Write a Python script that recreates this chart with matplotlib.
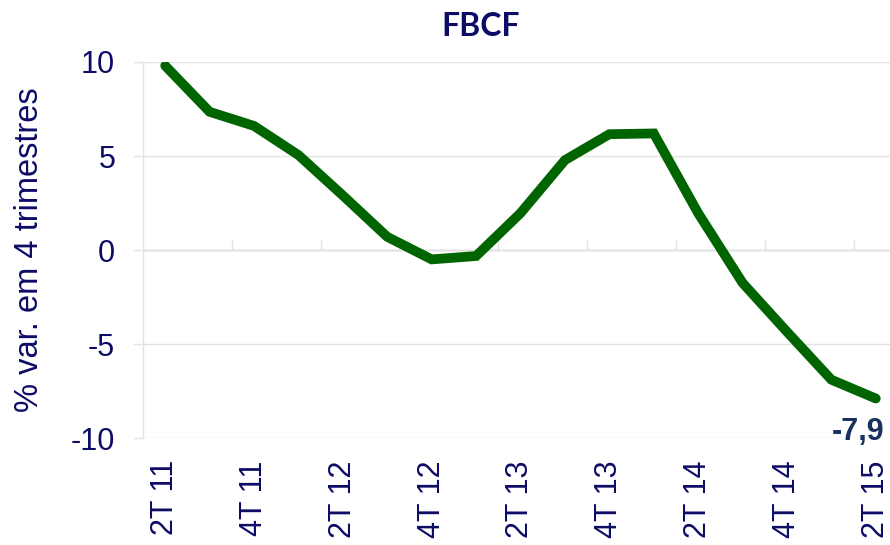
import numpy as np
import matplotlib
matplotlib.use("Agg")
import matplotlib.pyplot as plt

# Quarterly data, % change over 4 quarters
quarters = ['2T 11', '3T 11', '4T 11', '1T 12', '2T 12', '3T 12', '4T 12', '1T 13',
            '2T 13', '3T 13', '4T 13', '1T 14', '2T 14', '3T 14', '4T 14', '1T 15', '2T 15']
fbcf = [9.8, 7.35, 6.6, 5.05, 2.9, 0.7, -0.5, -0.32,
        1.96, 4.78, 6.16, 6.2, 1.96, -1.75, -4.35, -6.9, -7.9]
yticks = [-10, -5, 0, 5, 10]
last_label = '-7,9'

NAVY = '#0c0c66'
GRID = '#e3e3e3'
GREEN = '#006400'

plt.rcParams['font.family'] = ['Liberation Sans', 'DejaVu Sans']

fig = plt.figure(figsize=(8.9, 5.45), dpi=100)
ax = fig.add_axes([143 / 890, 107 / 545, 755 / 890, 376 / 545])

x = np.arange(len(quarters))
ax.plot(x, fbcf, color=GREEN, lw=7, solid_capstyle='round', solid_joinstyle='miter', zorder=3)

ax.set_xlim(-0.5, len(quarters) - 0.5)
ax.set_ylim(-10, 10)

# y axis
ax.set_yticks(yticks)
ax.set_yticklabels([str(v) for v in yticks])
ax.tick_params(axis='y', length=7, width=1, color=GRID, pad=13,
               labelsize=22, labelcolor=NAVY)
ax.yaxis.grid(True, color=GRID, lw=1)

# x labels every 2 quarters
ax.set_xticks(x[::2])
ax.set_xticklabels(quarters[::2], rotation=90, va='top', ha='center')
ax.tick_params(axis='x', length=0, pad=16, labelsize=22, labelcolor=NAVY)

for s in ['top', 'right', 'bottom']:
    ax.spines[s].set_visible(False)
ax.spines['left'].set_color(GRID)
ax.spines['left'].set_linewidth(1)

# category axis drawn at y = 0
sec = ax.secondary_xaxis(0.5)
sec.set_xticks(np.arange(1.5, len(quarters) - 1, 2))
sec.set_xticklabels([])
sec.tick_params(axis='x', direction='out', length=7, width=1, color=GRID)
sec.spines['bottom'].set_color('#d9d9d9')
sec.spines['bottom'].set_linewidth(1)

# label for last point
ax.text(x[-1] - 0.4, fbcf[-1] - 1.0, last_label, fontsize=22, fontweight='bold',
        color='#17325e', ha='center', va='top', zorder=4)

ax.set_ylabel('% var. em 4 trimestres', fontsize=23.5, color=NAVY)
ax.yaxis.set_label_coords(-0.13, 0.5)

fig.text(481 / 890, 1 - 26 / 545, 'FBCF', fontsize=23, fontweight='bold',
         color=NAVY, ha='center', va='center', family=['Lato', 'DejaVu Sans'])

fig.savefig('out.png', dpi=100)
